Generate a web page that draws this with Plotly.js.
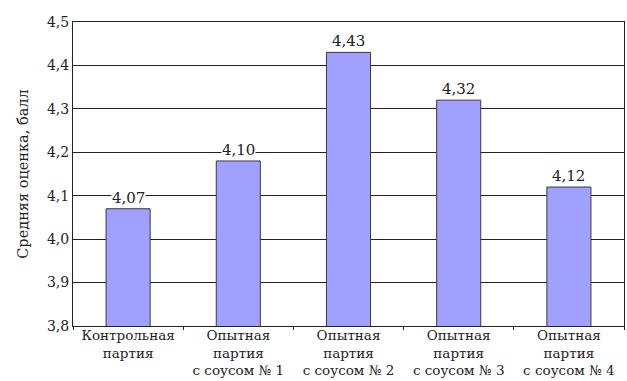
<!DOCTYPE html>
<html><head><meta charset="utf-8">
<script src="https://cdn.plot.ly/plotly-3.0.1.min.js"></script>
<style>html,body{margin:0;padding:0;background:#fff}</style>
</head><body><div id="c" style="width:627px;height:381px"></div>
<script>
const categories = ["Контрольная<br>партия", "Опытная<br>партия<br>с соусом № 1", "Опытная<br>партия<br>с соусом № 2", "Опытная<br>партия<br>с соусом № 3", "Опытная<br>партия<br>с соусом № 4"];
const values = [4.07, 4.18, 4.43, 4.32, 4.12];
const valueLabels = ["4,07", "4,10", "4,43", "4,32", "4,12"];
const yTicks = [3.8, 3.9, 4.0, 4.1, 4.2, 4.3, 4.4, 4.5];
const yTickText = ["3,8", "3,9", "4,0", "4,1", "4,2", "4,3", "4,4", "4,5"];

const fam = "DejaVu Serif";
const font = {family: fam, size: 14, color: "#222"};
const xfont = {family: fam, size: 13.5, color: "#222"};
const vfont = {family: fam, size: 15, color: "#222"};
const tfont = {family: fam, size: 14.5, color: "#222"};
const trace = {
  type: "bar", x: categories, y: values,
  marker: {color: "#a0a0fe", line: {color: "#3a3a3a", width: 1}},
  hoverinfo: "none"
};
const annotations = categories.map((c, i) => ({
  x: c, y: values[i], text: valueLabels[i], showarrow: false,
  yanchor: "bottom", yshift: 1, bgcolor: "#fff", borderpad: 0,
  font: vfont
}));
Plotly.newPlot("c", [trace], {
  width: 627, height: 381,
  margin: {l: 73, r: 3, t: 22, b: 55},
  paper_bgcolor: "#fff", plot_bgcolor: "#fff",
  bargap: 0.6, showlegend: false, font: font,
  xaxis: {showline: true, linecolor: "#222", linewidth: 1, mirror: true,
    ticks: "outside", tickson: "boundaries", ticklen: 3, tickcolor: "#222",
    tickfont: xfont, automargin: false, ticklabelstandoff: -3},
  yaxis: {range: [3.8, 4.5], tickvals: yTicks, ticktext: yTickText,
    showline: true, linecolor: "#222", linewidth: 1, mirror: true,
    showgrid: true, gridcolor: "#222", gridwidth: 1, ticks: "", ticklen: 0,
    zeroline: false, tickfont: font, automargin: false,
    title: {text: "Средняя оценка, балл", font: tfont, standoff: 14}},
  annotations: annotations
}, {staticPlot: true});
</script></body></html>
